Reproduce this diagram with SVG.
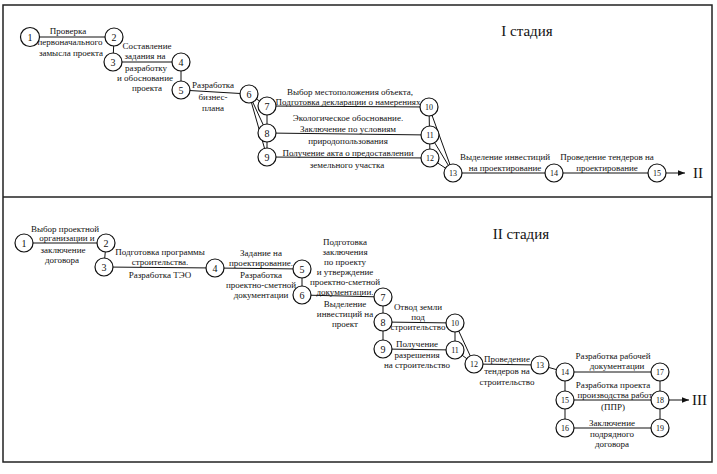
<svg xmlns="http://www.w3.org/2000/svg" width="717" height="474" viewBox="0 0 717 474">
<defs>
<marker id="arr" viewBox="0 0 10 10" refX="10" refY="5" markerWidth="7" markerHeight="7" orient="auto" markerUnits="userSpaceOnUse"><path d="M0,1 L10,5 L0,9 Z" fill="#111"/></marker>
</defs>
<style>
.n circle{fill:#fff;stroke:#111;stroke-width:1.2}
.n text{font-family:"Liberation Serif","DejaVu Serif",serif;font-size:10px;text-anchor:middle;fill:#111}
.n text.s{font-size:8px}
.c line{stroke:#111;stroke-width:1}
.l text{font-family:"Liberation Serif","DejaVu Serif",serif;font-size:9px;text-anchor:middle;fill:#111}
.h{font-family:"Liberation Serif","DejaVu Serif",serif;font-size:15px;fill:#111;text-anchor:middle}
.frame{fill:none;stroke:#222;stroke-width:1.5}
</style>
<rect x="0" y="0" width="717" height="474" fill="#fff"/>
<rect class="frame" x="3" y="5" width="709" height="457"/>
<line x1="3" y1="197" x2="712" y2="197" stroke="#222" stroke-width="1.5"/>
<text class="h" x="527" y="36">I стадия</text>
<text class="h" x="521" y="239">II стадия</text>
<text class="h" x="693" y="178" text-anchor="start" style="text-anchor:start">II</text>
<text class="h" x="692" y="405" style="text-anchor:start">III</text>

<g id="connectors" class="c">
<line x1="30" y1="37" x2="114" y2="37"/>
<line x1="114" y1="37" x2="113" y2="62"/>
<line x1="113" y1="62" x2="181" y2="62"/>
<line x1="181" y1="62" x2="181" y2="90"/>
<line x1="181" y1="90" x2="249" y2="94"/>
<line x1="249" y1="94" x2="267" y2="106"/>
<line x1="249" y1="94" x2="267" y2="133"/>
<line x1="249" y1="94" x2="267" y2="157"/>
<line x1="267" y1="106" x2="267" y2="157"/>
<line x1="267" y1="106" x2="429" y2="107"/>
<line x1="267" y1="133" x2="430" y2="135"/>
<line x1="267" y1="157" x2="430" y2="158"/>
<line x1="429" y1="107" x2="430" y2="158"/>
<line x1="429" y1="107" x2="453" y2="173"/>
<line x1="430" y1="135" x2="453" y2="173"/>
<line x1="430" y1="158" x2="453" y2="173"/>
<line x1="453" y1="173" x2="657" y2="173"/>
<line x1="666" y1="173" x2="685" y2="173" marker-end="url(#arr)"/>

<line x1="24" y1="243" x2="106" y2="243"/>
<line x1="106" y1="243" x2="104" y2="267"/>
<line x1="104" y1="267" x2="215" y2="268"/>
<line x1="215" y1="268" x2="302" y2="269"/>
<line x1="302" y1="269" x2="302" y2="295"/>
<line x1="302" y1="295" x2="383" y2="297"/>
<line x1="383" y1="297" x2="383" y2="349"/>
<line x1="383" y1="322" x2="455" y2="323"/>
<line x1="383" y1="349" x2="455" y2="350"/>
<line x1="455" y1="323" x2="455" y2="350"/>
<line x1="455" y1="323" x2="474" y2="364"/>
<line x1="455" y1="350" x2="474" y2="364"/>
<line x1="474" y1="364" x2="540" y2="365"/>
<line x1="540" y1="365" x2="565" y2="372"/>
<line x1="565" y1="372" x2="565" y2="428"/>
<line x1="565" y1="372" x2="660" y2="372"/>
<line x1="565" y1="400" x2="660" y2="400"/>
<line x1="565" y1="428" x2="660" y2="428"/>
<line x1="660" y1="372" x2="660" y2="428"/>
<line x1="669" y1="400" x2="689" y2="400" marker-end="url(#arr)"/>
</g>

<g id="labels" class="l">
<text x="68" y="34">Проверка</text>
<text x="70" y="45">первоначального</text>
<text x="71" y="56">замысла проекта</text>
<text x="147" y="49">Составление</text>
<text x="145" y="59">задания на</text>
<text x="146" y="71">разработку</text>
<text x="145" y="81">и обоснование</text>
<text x="147" y="91">проекта</text>
<text x="213" y="88">Разработка</text>
<text x="213" y="100">бизнес-</text>
<text x="213" y="111">плана</text>
<text x="350" y="95">Выбор местоположения объекта,</text>
<text x="348" y="105">Подготовка декларации о намерениях</text>
<text x="348" y="121">Экологическое обоснование.</text>
<text x="348" y="132">Заключение по условиям</text>
<text x="348" y="144">природопользования</text>
<text x="348" y="156">Получение акта о предоставлении</text>
<text x="347" y="168">земельного участка</text>
<text x="505" y="160">Выделение инвестиций</text>
<text x="505" y="171">на проектирование</text>
<text x="607" y="160">Проведение тендеров на</text>
<text x="607" y="171">проектирование</text>

<text x="65" y="232">Выбор проектной</text>
<text x="67" y="241">организации и</text>
<text x="63" y="253">заключение</text>
<text x="62" y="263">договора</text>
<text x="160" y="255">Подготовка программы</text>
<text x="160" y="265">строительства.</text>
<text x="160" y="278">Разработка ТЭО</text>
<text x="261" y="256">Задание на</text>
<text x="261" y="266">проектирование.</text>
<text x="261" y="278">Разработка</text>
<text x="261" y="288">проектно-сметной</text>
<text x="261" y="298">документации</text>
<text x="345" y="245">Подготовка</text>
<text x="345" y="255">заключения</text>
<text x="345" y="265">по проекту</text>
<text x="345" y="275">и утверждение</text>
<text x="345" y="285">проектно-сметной</text>
<text x="345" y="295">документации.</text>
<text x="345" y="307">Выделение</text>
<text x="345" y="317">инвестиций на</text>
<text x="345" y="327">проект</text>
<text x="418" y="310">Отвод земли</text>
<text x="418" y="320">под</text>
<text x="418" y="330">строительство</text>
<text x="417" y="347">Получение</text>
<text x="417" y="358">разрешения</text>
<text x="417" y="368">на строительство</text>
<text x="507" y="362">Проведение</text>
<text x="507" y="374">тендеров на</text>
<text x="507" y="385">строительство</text>
<text x="613" y="359">Разработка рабочей</text>
<text x="617" y="369">документации</text>
<text x="613" y="388">Разработка проекта</text>
<text x="615" y="398">производства работ</text>
<text x="613" y="410">(ППР)</text>
<text x="612" y="426">Заключение</text>
<text x="612" y="437">подрядного</text>
<text x="612" y="447">договора</text>
</g>

<g id="t1" class="n"><circle cx="30" cy="37" r="9.5"/><text x="30" y="40.5">1</text></g>
<g id="t2" class="n"><circle cx="114" cy="37" r="9"/><text x="114" y="40.5">2</text></g>
<g id="t3" class="n"><circle cx="113" cy="62" r="9"/><text x="113" y="65.5">3</text></g>
<g id="t4" class="n"><circle cx="181" cy="62" r="9"/><text x="181" y="65.5">4</text></g>
<g id="t5" class="n"><circle cx="181" cy="90" r="9"/><text x="181" y="93.5">5</text></g>
<g id="t6" class="n"><circle cx="249" cy="94" r="9"/><text x="249" y="97.5">6</text></g>
<g id="t7" class="n"><circle cx="267" cy="106" r="9"/><text x="267" y="109.5">7</text></g>
<g id="t8" class="n"><circle cx="267" cy="133" r="9"/><text x="267" y="136.5">8</text></g>
<g id="t9" class="n"><circle cx="267" cy="157" r="9"/><text x="267" y="160.5">9</text></g>
<g id="t10" class="n"><circle cx="429" cy="107" r="9"/><text class="s" x="429" y="110">10</text></g>
<g id="t11" class="n"><circle cx="430" cy="135" r="9"/><text class="s" x="430" y="138">11</text></g>
<g id="t12" class="n"><circle cx="430" cy="158" r="9"/><text class="s" x="430" y="161">12</text></g>
<g id="t13" class="n"><circle cx="453" cy="173" r="9"/><text class="s" x="453" y="176">13</text></g>
<g id="t14" class="n"><circle cx="554" cy="173" r="9"/><text class="s" x="554" y="176">14</text></g>
<g id="t15" class="n"><circle cx="657" cy="173" r="9"/><text class="s" x="657" y="176">15</text></g>

<g id="b1" class="n"><circle cx="24" cy="243" r="9"/><text x="24" y="246.5">1</text></g>
<g id="b2" class="n"><circle cx="106" cy="243" r="9"/><text x="106" y="246.5">2</text></g>
<g id="b3" class="n"><circle cx="104" cy="267" r="9"/><text x="104" y="270.5">3</text></g>
<g id="b4" class="n"><circle cx="215" cy="268" r="9"/><text x="215" y="271.5">4</text></g>
<g id="b5" class="n"><circle cx="302" cy="269" r="9"/><text x="302" y="272.5">5</text></g>
<g id="b6" class="n"><circle cx="302" cy="295" r="9"/><text x="302" y="298.5">6</text></g>
<g id="b7" class="n"><circle cx="383" cy="297" r="9"/><text x="383" y="300.5">7</text></g>
<g id="b8" class="n"><circle cx="383" cy="322" r="9"/><text x="383" y="325.5">8</text></g>
<g id="b9" class="n"><circle cx="383" cy="349" r="9"/><text x="383" y="352.5">9</text></g>
<g id="b10" class="n"><circle cx="455" cy="323" r="9"/><text class="s" x="455" y="326">10</text></g>
<g id="b11" class="n"><circle cx="455" cy="350" r="9"/><text class="s" x="455" y="353">11</text></g>
<g id="b12" class="n"><circle cx="474" cy="364" r="9"/><text class="s" x="474" y="367">12</text></g>
<g id="b13" class="n"><circle cx="540" cy="365" r="9"/><text class="s" x="540" y="368">13</text></g>
<g id="b14" class="n"><circle cx="565" cy="372" r="9"/><text class="s" x="565" y="375">14</text></g>
<g id="b15" class="n"><circle cx="565" cy="400" r="9"/><text class="s" x="565" y="403">15</text></g>
<g id="b16" class="n"><circle cx="565" cy="428" r="9"/><text class="s" x="565" y="431">16</text></g>
<g id="b17" class="n"><circle cx="660" cy="372" r="9"/><text class="s" x="660" y="375">17</text></g>
<g id="b18" class="n"><circle cx="660" cy="400" r="9"/><text class="s" x="660" y="403">18</text></g>
<g id="b19" class="n"><circle cx="660" cy="428" r="9"/><text class="s" x="660" y="431">19</text></g>
</svg>
